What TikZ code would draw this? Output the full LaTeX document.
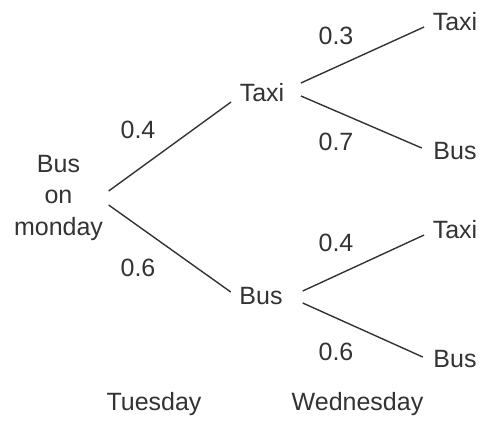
\documentclass[tikz,border=0pt]{standalone}
\usepackage{fontspec}
\setmainfont{Liberation Sans}
\definecolor{ink}{HTML}{333333}
\begin{document}
\begin{tikzpicture}[x=1pt, y=-1pt, thick, line width=1.4pt, draw=ink, text=ink,
                    opt/.style = {font=\fontsize{25}{31.5}\selectfont, inner sep=8pt, text height=18pt, text depth=0pt},
                    prob/.style = {font=\fontsize{25}{30}\selectfont, inner sep=0pt}]
                    \useasboundingbox (0,0) rectangle (482,424);
                    % Disegna i nodi dell'albero
                    \node[font=\fontsize{25}{31.5}\selectfont, align=center, inner sep=5pt] (root) at (58.5,197.5) {Bus\\on\\monday};
                    \node[opt] (tt) at (262,92) {Taxi};
                    \node[opt] (bt) at (261,295) {Bus};
                    \node[opt] (tw1) at (455,21) {Taxi};
                    \node[opt] (bw1) at (455,150) {Bus};
                    \node[opt] (tw2) at (455,229) {Taxi};
                    \node[opt] (bw2) at (455,358) {Bus};

                    % probabilita
                    \node[prob] (p1) at (138,130) {0.4};
                    \node[prob] (p2) at (138,268) {0.6};
                    \node[prob] (p3) at (336,36) {0.3};
                    \node[prob] (p4) at (336,142) {0.7};
                    \node[prob] (p5) at (336,243) {0.4};
                    \node[prob] (p6) at (336,352) {0.6};

                    \node[prob] (d1) at (154,404) {Tuesday};
                    \node[prob] (d2) at (357.5,404) {Wednesday};

                    \draw[ink] ([yshift=6.5pt]root.east) -- ([yshift=-10pt]tt.west);
                    \draw[ink] ([yshift=-7.5pt]root.east) -- ([yshift=3pt]bt.west);
                    \draw[ink] ([xshift=8pt, yshift=9pt]tt.east) -- ([yshift=-6pt]tw1.west);
                    \draw[ink] ([xshift=8pt, yshift=-4pt]tt.east) -- ([xshift=-3pt, yshift=2pt]bw1.west);
                    \draw[ink] ([xshift=11.5pt, yshift=4pt]bt.east) -- ([yshift=-6pt]tw2.west);
                    \draw[ink] ([xshift=11.5pt, yshift=-8pt]bt.east) -- ([xshift=-2pt, yshift=1pt]bw2.west);
                \end{tikzpicture}
\end{document}
